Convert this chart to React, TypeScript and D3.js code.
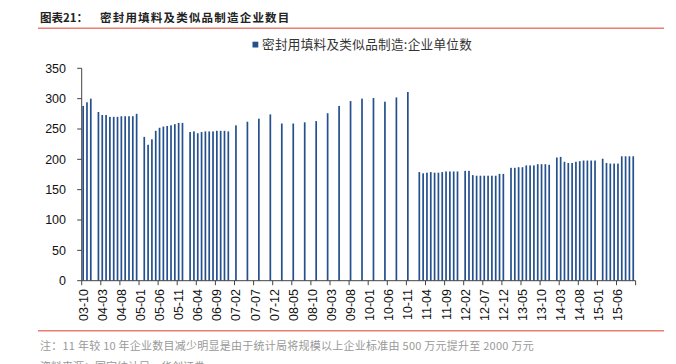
import React from "react";
import * as d3 from "d3";

const title = "图表21：";
const subtitle = "密封用填料及类似品制造企业数目";
const legendLabel = "密封用填料及类似品制造:企业单位数";
const note = "注：11 年较 10 年企业数目减少明显是由于统计局将规模以上企业标准由 500 万元提升至 2000 万元";
const source = "资料来源：国家统计局，华创证券";

const firstMonth = "2003-10";
const lastMonth = "2015-10";

const months = [
  "2003-10", "2003-11", "2003-12",
  "2004-02", "2004-03", "2004-04", "2004-05", "2004-06", "2004-07", "2004-08", "2004-09", "2004-10", "2004-11", "2004-12",
  "2005-02", "2005-03", "2005-04", "2005-05", "2005-06", "2005-07", "2005-08", "2005-09", "2005-10", "2005-11", "2005-12",
  "2006-02", "2006-03", "2006-04", "2006-05", "2006-06", "2006-07", "2006-08", "2006-09", "2006-10", "2006-11", "2006-12",
  "2007-02", "2007-05", "2007-08", "2007-11",
  "2008-02", "2008-05", "2008-08", "2008-11",
  "2009-02", "2009-05", "2009-08", "2009-11",
  "2010-02", "2010-05", "2010-08", "2010-11",
  "2011-02", "2011-03", "2011-04", "2011-05", "2011-06", "2011-07", "2011-08", "2011-09", "2011-10", "2011-11", "2011-12",
  "2012-02", "2012-03", "2012-04", "2012-05", "2012-06", "2012-07", "2012-08", "2012-09", "2012-10", "2012-11", "2012-12",
  "2013-02", "2013-03", "2013-04", "2013-05", "2013-06", "2013-07", "2013-08", "2013-09", "2013-10", "2013-11", "2013-12",
  "2014-02", "2014-03", "2014-04", "2014-05", "2014-06", "2014-07", "2014-08", "2014-09", "2014-10", "2014-11", "2014-12",
  "2015-02", "2015-03", "2015-04", "2015-05", "2015-06", "2015-07", "2015-08", "2015-09", "2015-10",
];

const values = [
  288, 294, 300,
  278, 273, 273, 270, 270, 270, 271, 271, 271, 271, 275,
  237, 224, 233, 247, 252, 254, 255, 256, 258, 260, 260,
  245, 246, 243, 245, 246, 246, 246, 247, 247, 247, 246,
  256, 262, 267, 274,
  259, 259, 261, 263,
  276, 288, 296, 300,
  301, 295, 302, 311,
  179, 177, 178, 179, 178, 178, 179, 180, 180, 180, 180,
  181, 181, 174, 173, 173, 173, 173, 173, 173, 176, 176,
  186, 186, 187, 187, 190, 190, 190, 192, 192, 192, 191,
  203, 204, 196, 194, 194, 196, 197, 198, 198, 198, 198,
  201, 194, 193, 193, 193, 205, 205, 205, 205,
];

const yTicks = [0, 50, 100, 150, 200, 250, 300, 350];
const tickEvery = 5;

const W = 676;
const H = 364;
const left = 81.7;
const right = 635.6;
const top = 68.3;
const bottom = 280.7;
const barColor = "#24508e";
const axisColor = "#444";
const redLine = "#ec7d72";
const FONT = "'Liberation Sans', Arial, sans-serif";
const CJK = "'Noto Sans CJK SC', 'Noto Sans', sans-serif";

export default function App() {
  const parse = d3.timeParse("%Y-%m");
  const fmt = d3.timeFormat("%Y-%m");
  const start = parse(firstMonth)!;
  const end = parse(lastMonth)!;
  const allMonths = d3.timeMonth.range(start, d3.timeMonth.offset(end, 1)).map(fmt);

  const x = d3.scaleBand<string>().domain(allMonths).range([left, right]).padding(0);
  const y = d3.scaleLinear().domain([0, 350]).range([bottom, top]);
  const bw = x.bandwidth();
  const tickLabel = d3.timeFormat("%y-%m");

  const xTickIdx = allMonths.map((_, i) => i).filter((i) => i % tickEvery === 0);

  return (
    <svg width={W} height={H} style={{ position: "absolute", left: 0, top: 0, background: "#fff" }}>
      <text x={40} y={22} fontFamily={CJK} fontWeight="bold" fontSize={11.5} fill="#222">
        {title}
      </text>
      <text x={100} y={22} fontFamily={CJK} fontWeight="bold" fontSize={11.5} fill="#222" letterSpacing={1.2}>
        {subtitle}
      </text>
      <line x1={38} x2={664} y1={28.3} y2={28.3} stroke={redLine} strokeWidth={1.5} />

      <rect x={252.5} y={41.7} width={5.8} height={5.8} fill={barColor} />
      <text x={262} y={49} fontFamily={CJK} fontSize={12.6} fill="#333" letterSpacing={0.3}>
        {legendLabel}
      </text>

      {months.map((m, i) => (
        <rect
          key={m}
          x={(x(m) as number) + 0.6}
          y={y(values[i])}
          width={1.7}
          height={bottom - y(values[i])}
          fill={barColor}
        />
      ))}

      <line x1={left} x2={left} y1={top} y2={bottom} stroke={axisColor} strokeWidth={1} />
      {yTicks.map((t) => (
        <g key={t}>
          <line x1={left - 4.5} x2={left} y1={y(t)} y2={y(t)} stroke={axisColor} strokeWidth={1} />
          <text x={66} y={y(t)} dy="0.35em" textAnchor="end" fontFamily={FONT} fontSize={12.5} fill="#111">
            {t}
          </text>
        </g>
      ))}

      <line x1={left} x2={right} y1={bottom} y2={bottom} stroke={axisColor} strokeWidth={1} />
      {xTickIdx.map((i) => {
        const xx = left + i * bw;
        return (
          <g key={i}>
            <line x1={xx} x2={xx} y1={bottom} y2={bottom + 4.5} stroke={axisColor} strokeWidth={1} />
            <text
              transform={`translate(${xx + 1.6},289) rotate(-90)`}
              dy="0.35em"
              textAnchor="end"
              fontFamily={FONT}
              fontSize={12.5}
              fill="#111"
            >
              {tickLabel(parse(allMonths[i])!)}
            </text>
          </g>
        );
      })}
      <line x1={right} x2={right} y1={bottom} y2={bottom + 4.5} stroke={axisColor} strokeWidth={1} />

      <line x1={38} x2={664} y1={330.7} y2={330.7} stroke={redLine} strokeWidth={1.5} />
      <text x={40} y={349.5} fontFamily={CJK} fontSize={11} fill="#999" letterSpacing={0.25}>
        {note}
      </text>
      <text x={40} y={370.5} fontFamily={CJK} fontSize={11} fill="#999">
        {source}
      </text>
    </svg>
  );
}
